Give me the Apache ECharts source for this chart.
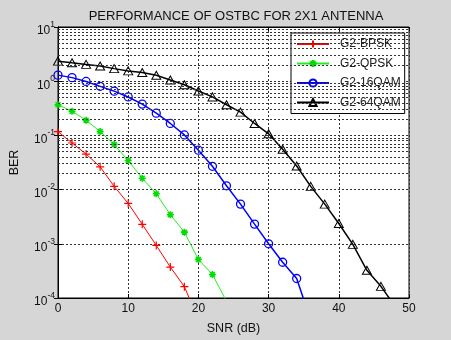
<!DOCTYPE html>
<html>
<head>
<meta charset="utf-8">
<script src="https://cdn.jsdelivr.net/npm/echarts@6/dist/echarts.min.js"></script>
<style>
html,body{margin:0;padding:0;background:#d6d6d6;}
#chart{width:451px;height:340px;}
</style>
</head>
<body>
<div id="chart"></div>
<script>
// ---- data ----
const snr = [0,2,4,6,8,10,12,14,16,18,20,22,24,26,28,30,32,34,36,38,40,42,44,46,48];
const seriesNames = ['G2-BPSK','G2-QPSK','G2-16QAM','G2-64QAM'];
const berBPSK  = [0.1175,0.0724,0.0452,0.0263,0.01148,0.00556,0.00229,0.000933,0.000372,0.000162,0.0000398];
const berQPSK  = [0.368,0.279,0.191,0.1175,0.0682,0.0344,0.0162,0.00838,0.00344,0.00164,0.000513,0.000272,0.0000871];
const ber16QAM = [1.294,1.164,0.989,0.804,0.655,0.512,0.378,0.257,0.166,0.102,0.0533,0.0269,0.01175,0.0054,0.00231,0.001,0.000457,0.000229,0.0000389];
const ber64QAM = [2.344,2.183,2.042,1.905,1.706,1.549,1.445,1.288,1.054,0.859,0.661,0.513,0.368,0.269,0.166,0.107,0.0556,0.0272,0.01148,0.0054,0.00237,0.000977,0.000324,0.000164,0.0000708];
const xTicks = [0,10,20,30,40,50];
const yDecades = [1e-4,1e-3,1e-2,1e-1,1,10];
const minorMultipliers = [2,3,4,5,6,7,8,9];

const FONT = 'Liberation Sans, Arial, sans-serif';
const pairs = vals => vals.map((v,i) => [snr[i], v]);

const minorLines = [];
for (let d = 0; d < yDecades.length - 1; d++) {
  for (const m of minorMultipliers) minorLines.push({ yAxis: yDecades[d] * m });
}

const dotted = { color: '#333', width: 1, type: [2, 2] };

const chart = echarts.init(document.getElementById('chart'), null, { renderer: 'canvas' });
const option = {
  backgroundColor: '#d6d6d6',
  animation: false,
  title: {
    text: 'PERFORMANCE OF OSTBC FOR 2X1 ANTENNA',
    left: 231, top: 5, textAlign: 'center',
    textStyle: { fontFamily: FONT, fontSize: 13, fontWeight: 'normal', color: '#111' }
  },
  legend: {
    data: seriesNames,
    orient: 'vertical',
    left: 291, top: 33,
    backgroundColor: '#fff',
    borderColor: '#000', borderWidth: 1, borderRadius: 0,
    padding: [5, 4, 5, 5],
    itemGap: 7.5, itemWidth: 32, itemHeight: 9,
    textStyle: { fontFamily: FONT, fontSize: 12, color: '#222', padding: [0, 0, 0, 6] }
  },
  grid: {
    left: 54, right: 42, top: 27, bottom: 33,
    show: true, backgroundColor: '#fff', borderColor: '#000', borderWidth: 1
  },
  xAxis: [{
    type: 'value', min: xTicks[0], max: xTicks[xTicks.length - 1], interval: 10,
    name: 'SNR (dB)', nameLocation: 'middle', nameGap: 24,
    nameTextStyle: { fontFamily: FONT, fontSize: 12.5, color: '#111' },
    axisLine: { lineStyle: { color: '#000', width: 1 } },
    axisTick: { inside: true, length: 4, lineStyle: { color: '#000' } },
    axisLabel: { fontFamily: FONT, fontSize: 12, color: '#111', margin: 5 },
    splitLine: { show: true, lineStyle: dotted }
  }, {
    type: 'value', min: xTicks[0], max: xTicks[xTicks.length - 1], interval: 10, position: 'top',
    axisLine: { lineStyle: { color: '#000' } },
    axisTick: { inside: true, length: 4, lineStyle: { color: '#000' } },
    axisLabel: { show: false }, splitLine: { show: false }
  }],
  yAxis: [{
    type: 'log', logBase: 10, min: yDecades[0], max: yDecades[yDecades.length - 1],
    name: 'BER', nameLocation: 'middle', nameGap: 37, nameRotate: 90,
    nameTextStyle: { fontFamily: FONT, fontSize: 12.5, color: '#111' },
    axisLine: { lineStyle: { color: '#000', width: 1 } },
    axisTick: { inside: true, length: 4, lineStyle: { color: '#000' } },
    axisLabel: {
      margin: 3,
      formatter: v => '{b|10}{e|' + Math.round(Math.log10(v)) + '}',
      rich: {
        b: { fontFamily: FONT, fontSize: 12, color: '#111', verticalAlign: 'bottom', lineHeight: 14, padding: [0, 0, -3, 0] },
        e: { fontFamily: FONT, fontSize: 8.5, color: '#111', verticalAlign: 'bottom', lineHeight: 14, padding: [0, 0, 5, 0] }
      }
    },
    splitLine: { show: true, lineStyle: dotted }
  }, {
    type: 'log', logBase: 10, min: yDecades[0], max: yDecades[yDecades.length - 1], position: 'right',
    axisLine: { lineStyle: { color: '#000' } },
    axisTick: { inside: true, length: 4, lineStyle: { color: '#000' } },
    axisLabel: { show: false }, splitLine: { show: false }
  }],
  series: [
    {
      name: '_minorGrid', type: 'line', data: [], silent: true, z: 1,
      markLine: {
        silent: true, symbol: ['none', 'none'], label: { show: false },
        lineStyle: dotted, animation: false, data: minorLines
      }
    },
    {
      name: seriesNames[0], type: 'line', data: pairs(berBPSK), z: 3,
      color: '#ff0000',
      lineStyle: { color: '#ff0000', width: 1 },
      symbol: 'path://M5,0 L5,10 M0,5 L10,5', symbolSize: 8,
      itemStyle: { color: 'rgba(0,0,0,0)', borderColor: '#ff0000', borderWidth: 1.2 }
    },
    {
      name: seriesNames[1], type: 'line', data: pairs(berQPSK), z: 3,
      color: '#00ee00',
      lineStyle: { color: '#22ee22', width: 1 },
      symbol: 'path://M5,0 L5,10 M0,5 L10,5 M1.5,1.5 L8.5,8.5 M8.5,1.5 L1.5,8.5', symbolSize: 7,
      itemStyle: { color: 'rgba(0,0,0,0)', borderColor: '#00dd00', borderWidth: 1.6 }
    },
    {
      name: seriesNames[2], type: 'line', data: pairs(ber16QAM), z: 3,
      color: '#0000ff',
      lineStyle: { color: '#0000ff', width: 1.5 },
      symbol: 'circle', symbolSize: 8,
      itemStyle: { color: 'rgba(0,0,0,0)', borderColor: '#0000ff', borderWidth: 1.3 }
    },
    {
      name: seriesNames[3], type: 'line', data: pairs(ber64QAM), z: 3,
      color: '#000',
      lineStyle: { color: '#000', width: 1.5 },
      symbol: 'triangle', symbolSize: [9, 8],
      itemStyle: { color: 'rgba(0,0,0,0)', borderColor: '#000', borderWidth: 1 }
    }
  ]
};
chart.setOption(option);
</script>
</body>
</html>
